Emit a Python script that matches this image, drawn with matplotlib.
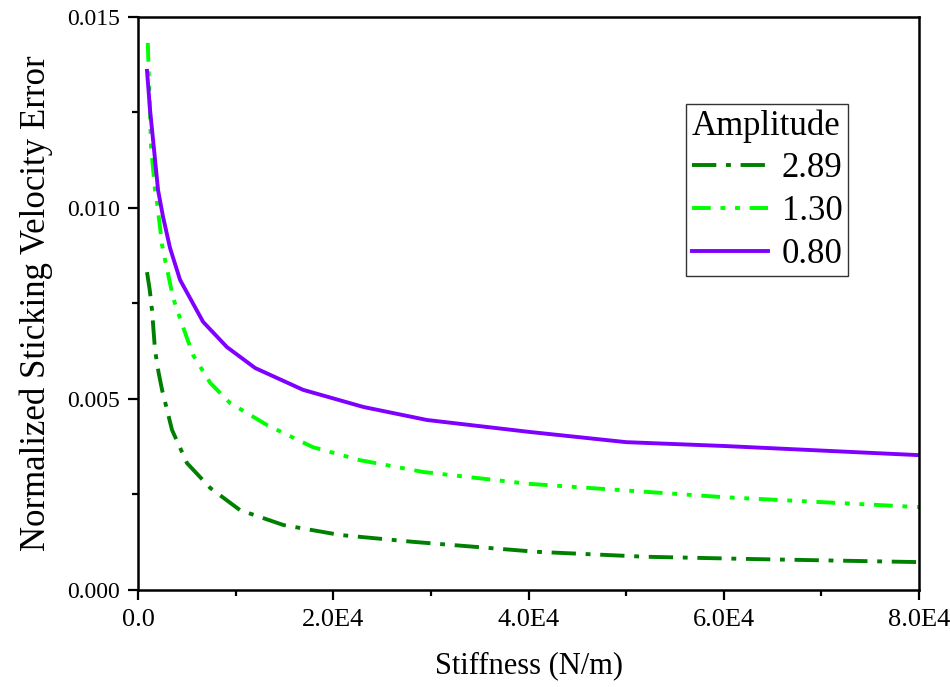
import matplotlib
matplotlib.use("Agg")
import matplotlib.pyplot as plt
from matplotlib.ticker import MultipleLocator, FixedLocator

plt.rcParams['font.family'] = ['Liberation Serif', 'DejaVu Serif']
plt.rcParams['lines.scale_dashes'] = False

# Data
x_289 = [920, 1200, 1430, 1740, 2100, 2460, 3480, 5020, 7400, 10450, 14900, 20700, 28200, 40800, 52000, 63000, 80000]
y_289 = [0.00832, 0.00785, 0.00733, 0.00628, 0.00570, 0.00524, 0.00419, 0.00332, 0.00267, 0.00209, 0.00170, 0.00144, 0.00126, 0.00100, 0.00087, 0.00081, 0.00073]

x_130 = [1000, 1330, 1740, 1950, 2250, 2460, 2770, 3600, 4600, 5640, 7400, 9400, 13200, 17900, 22700, 29200, 40000, 60000, 80000]
y_130 = [0.01432, 0.01160, 0.01047, 0.01013, 0.00950, 0.00903, 0.00864, 0.00764, 0.00689, 0.00615, 0.00542, 0.00490, 0.00432, 0.00374, 0.00340, 0.00309, 0.00278, 0.00243, 0.00217]

x_080 = [920, 1230, 1540, 2050, 2560, 3280, 4300, 6660, 9100, 12000, 16900, 23100, 29600, 40000, 50000, 60000, 80000]
y_080 = [0.01359, 0.01257, 0.01178, 0.01047, 0.00977, 0.00895, 0.00812, 0.00702, 0.00636, 0.00581, 0.00524, 0.00479, 0.00445, 0.00414, 0.00387, 0.00377, 0.00353]

labels = ["2.89", "1.30", "0.80"]
x_ticks = [0, 20000, 40000, 60000, 80000]
x_ticklabels = ["0.0", "2.0E4", "4.0E4", "6.0E4", "8.0E4"]
y_ticks = [0.000, 0.005, 0.010, 0.015]
y_ticklabels = ["0.000", "0.005", "0.010", "0.015"]

fig = plt.figure(figsize=(9.5, 6.87), dpi=100)
ax = fig.add_axes([0.1453, 0.1412, 0.8221, 0.8341])

lw = 2.8
ax.plot(x_289, y_289, color='#008000', lw=lw, dashes=(17.5, 7, 3.5, 7), label=labels[0])
ax.plot(x_130, y_130, color='#00FF00', lw=lw, dashes=(13.5, 7, 3.5, 7, 3.5, 7), label=labels[1])
ax.plot(x_080, y_080, color='#8000FF', lw=lw, label=labels[2])

ax.set_xlim(0, 80000)
ax.set_ylim(0, 0.015)
ax.xaxis.set_major_locator(FixedLocator(x_ticks))
ax.set_xticklabels(x_ticklabels)
ax.xaxis.set_minor_locator(MultipleLocator(10000))
ax.yaxis.set_major_locator(FixedLocator(y_ticks))
ax.set_yticklabels(y_ticklabels)
ax.yaxis.set_minor_locator(MultipleLocator(0.0025))

ax.tick_params(which='major', direction='out', length=7, width=1.6, pad=6)
ax.tick_params(axis='x', which='major', labelsize=19, pad=7)
ax.tick_params(axis='y', which='major', labelsize=17)
ax.tick_params(which='minor', direction='out', length=4.5, width=1.6)
for s in ax.spines.values():
    s.set_linewidth(1.8)

ax.set_xlabel("Stiffness (N/m)", fontsize=22, labelpad=14)
ax.set_ylabel("Normalized Sticking Velocity Error", fontsize=25, labelpad=10)

leg = ax.legend(title="Amplitude", loc='upper left', bbox_to_anchor=(0.702, 0.848),
                fontsize=25, title_fontsize=25, frameon=True, fancybox=False,
                handlelength=2.2, handletextpad=0.4, borderpad=0.15, labelspacing=0.28,
                borderaxespad=0)
leg.get_frame().set_edgecolor('black')
leg.get_frame().set_linewidth(1.0)
leg._legend_box.align = "left"

fig.savefig("out.png", dpi=100)
